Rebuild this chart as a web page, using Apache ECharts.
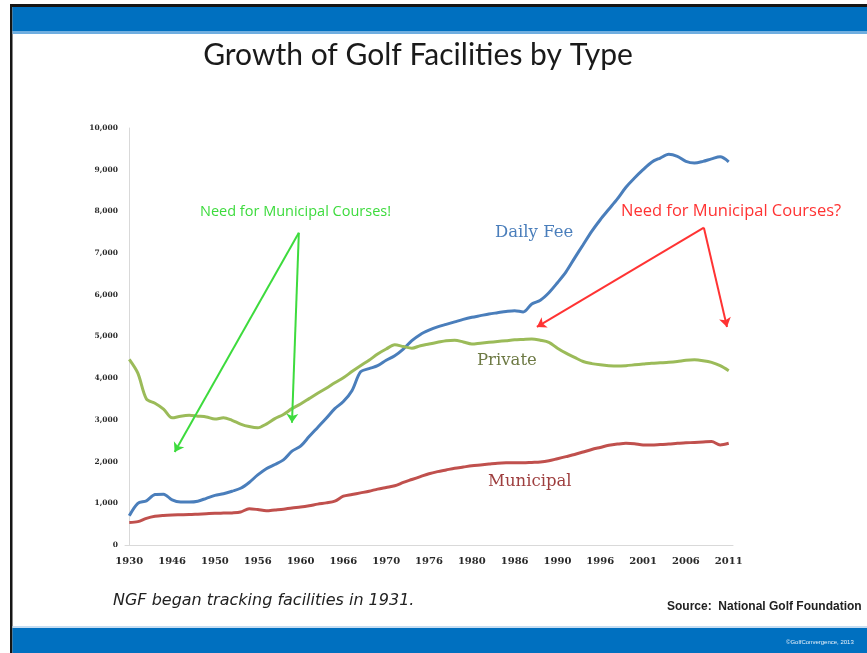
<!DOCTYPE html>
<html>
<head>
<meta charset="utf-8">
<script src="https://cdn.jsdelivr.net/npm/echarts@6/dist/echarts.min.js"></script>
<style>
  html, body { margin: 0; padding: 0; background: #fff; }
  #chart { width: 867px; height: 653px; }
</style>
</head>
<body>
<div id="chart"></div>
<script>
// Axis tick labels (years shown on the category axis)
const tickLabels = ['1930', '1946', '1950', '1956', '1960', '1966', '1970', '1976',
                    '1980', '1986', '1990', '1996', '2001', '2006', '2011'];
// Number of data points between two labelled years
const stepsPerLabel = 5;

// Number of golf facilities by type
const dailyFee = [700, 1000, 1060, 1210, 1220, 1080, 1030, 1030, 1050, 1120,
  1190, 1230, 1290, 1360, 1500, 1680, 1830, 1930, 2040, 2250,
  2370, 2600, 2820, 3040, 3270, 3440, 3700, 4150, 4230, 4300,
  4430, 4540, 4700, 4900, 5050, 5150, 5230, 5290, 5350, 5410,
  5460, 5500, 5540, 5570, 5600, 5620, 5590, 5780, 5870, 6050,
  6290, 6550, 6880, 7200, 7520, 7800, 8050, 8300, 8580, 8800,
  9000, 9180, 9280, 9370, 9320, 9200, 9160, 9200, 9260, 9310, 9190];

const privateCourses = [4450, 4120, 3500, 3400, 3260, 3050, 3090, 3110, 3090, 3070,
  3020, 3050, 2990, 2900, 2840, 2810, 2900, 3030, 3130, 3270,
  3380, 3510, 3640, 3760, 3890, 4010, 4160, 4300, 4430, 4580,
  4700, 4800, 4760, 4720, 4780, 4820, 4860, 4900, 4910, 4870,
  4820, 4840, 4860, 4880, 4900, 4920, 4930, 4940, 4910, 4860,
  4720, 4600, 4500, 4400, 4350, 4320, 4300, 4290, 4300, 4320,
  4340, 4360, 4370, 4380, 4400, 4430, 4440, 4420, 4380, 4300, 4180];

const municipal = [540, 560, 640, 690, 710, 720, 725, 730, 740, 750,
  760, 765, 770, 790, 870, 850, 820, 840, 860, 890,
  910, 940, 980, 1010, 1050, 1170, 1210, 1250, 1290, 1340,
  1380, 1420, 1500, 1570, 1640, 1710, 1760, 1800, 1840, 1870,
  1900, 1920, 1940, 1960, 1970, 1970, 1970, 1980, 1990, 2020,
  2070, 2120, 2170, 2230, 2290, 2340, 2390, 2420, 2440, 2430,
  2400, 2400, 2410, 2420, 2440, 2450, 2460, 2470, 2480, 2400, 2440];

// Callout arrows: [pointIndex, facilities] for the apex and the two tips
const greenApex = [19.8, 7490];
const greenTips = [[5.3, 2230], [19.0, 2930]];
const redApex = [67.1, 7610];
const redTips = [[47.6, 5230], [69.8, 5230]];

// Category list: each labelled year followed by unlabelled intermediate points
const categories = [];
tickLabels.forEach((t, i) => {
  categories.push(t);
  if (i < tickLabels.length - 1) {
    for (let k = 1; k < stepsPerLabel; k++) categories.push('');
  }
});
const lastIndex = categories.length - 1;

const COLORS = { daily: '#4A7EBB', priv: '#9BBB59', muni: '#C0504D',
                 green: '#3DDB3D', red: '#FF3333' };

function arrowLines(apex, tips) {
  return tips.map(t => [{ coord: apex }, { coord: t }]);
}

const chart = echarts.init(document.getElementById('chart'), null, { renderer: 'canvas' });

const option = {
  backgroundColor: '#ffffff',
  animation: false,
  title: {
    text: 'Growth of Golf Facilities by Type',
    left: 413, top: 35, textAlign: 'center',
    textStyle: { fontFamily: 'Lato', fontWeight: 'normal', fontSize: 30, color: '#1a1a1a' }
  },
  grid: { left: 125, right: 134, top: 128, bottom: 108 },
  xAxis: [{
    type: 'category',
    data: categories,
    boundaryGap: true,
    axisLine: { show: true, lineStyle: { color: '#d9d9d9', width: 1 } },
    axisTick: { show: false },
    axisLabel: {
      interval: 0, margin: 11,
      fontFamily: 'DejaVu Serif', fontWeight: 'bold', fontSize: 10, color: '#2a2a2a'
    },
    splitLine: { show: false }
  }, {
    // hidden numeric twin of the category axis, used to place the callout arrows
    type: 'value', show: false,
    min: -0.5, max: lastIndex + 0.5
  }],
  yAxis: {
    type: 'value', min: 0, max: 10000, interval: 1000,
    axisLine: { show: true, lineStyle: { color: '#d9d9d9', width: 1 } },
    axisTick: { show: false },
    splitLine: { show: false },
    axisLabel: {
      margin: 7,
      fontFamily: 'DejaVu Serif', fontWeight: 'bold', fontSize: 7.5, color: '#2a2a2a',
      formatter: v => v.toLocaleString('en-US')
    }
  },
  series: [
    { name: 'Daily Fee', type: 'line', data: dailyFee, smooth: 0.3, showSymbol: false,
      lineStyle: { color: COLORS.daily, width: 3 }, itemStyle: { color: COLORS.daily } },
    { name: 'Private', type: 'line', data: privateCourses, smooth: 0.3, showSymbol: false,
      lineStyle: { color: COLORS.priv, width: 3 }, itemStyle: { color: COLORS.priv } },
    { name: 'Municipal', type: 'line', data: municipal, smooth: 0.3, showSymbol: false,
      lineStyle: { color: COLORS.muni, width: 3 }, itemStyle: { color: COLORS.muni } },
    { name: 'callouts-green', type: 'scatter', xAxisIndex: 1, symbolSize: 0,
      data: [greenApex], silent: true,
      markLine: { silent: true, symbol: ['none', 'arrow'], symbolSize: 9, label: { show: false },
        lineStyle: { color: COLORS.green, width: 2, type: 'solid' },
        data: arrowLines(greenApex, greenTips) } },
    { name: 'callouts-red', type: 'scatter', xAxisIndex: 1, symbolSize: 0,
      data: [redApex], silent: true,
      markLine: { silent: true, symbol: ['none', 'arrow'], symbolSize: 9, label: { show: false },
        lineStyle: { color: COLORS.red, width: 2, type: 'solid' },
        data: arrowLines(redApex, redTips) } }
  ],
  graphic: [
    // slide frame and bands
    { type: 'rect', shape: { x: 10, y: 4, width: 857, height: 3 }, style: { fill: '#151515' } },
    { type: 'rect', shape: { x: 10, y: 4, width: 2.5, height: 649 }, style: { fill: '#151515' } },
    { type: 'rect', shape: { x: 12.5, y: 7, width: 855, height: 24 }, style: { fill: '#0070C0' } },
    { type: 'rect', shape: { x: 12.5, y: 31, width: 855, height: 3 }, style: { fill: '#6FAEE0' } },
    { type: 'rect', shape: { x: 12.5, y: 626, width: 855, height: 2 }, style: { fill: '#C6DDF2' } },
    { type: 'rect', shape: { x: 12.5, y: 628, width: 855, height: 25 }, style: { fill: '#0070C0' } },
    { type: 'text', left: 786, top: 639,
      style: { text: '\u00A9GolfConvergence, 2013', fill: '#e8f1fa', font: '6px "Liberation Sans"' } },
    // series names
    { type: 'text', left: 495, top: 224,
      style: { text: 'Daily Fee', fill: '#4A7EBB', font: '16.5px "DejaVu Serif"' } },
    { type: 'text', left: 477, top: 352,
      style: { text: 'Private', fill: '#6E7A45', font: '16.5px "DejaVu Serif"' } },
    { type: 'text', left: 488, top: 473,
      style: { text: 'Municipal', fill: '#9E3E3E', font: '16.5px "DejaVu Serif"' } },
    // callout captions
    { type: 'text', left: 200, top: 204,
      style: { text: 'Need for Municipal Courses!', fill: COLORS.green, font: '14.5px "Open Sans"' } },
    { type: 'text', left: 621, top: 203,
      style: { text: 'Need for Municipal Courses?', fill: COLORS.red, font: '16.5px "Open Sans"' } },
    // footnotes
    { type: 'text', left: 113, top: 593,
      style: { text: 'NGF began tracking facilities in 1931.', fill: '#222',
               font: 'italic 16px "DejaVu Sans"' } },
    { type: 'text', left: 667, top: 601,
      style: { text: 'Source:  National Golf Foundation', fill: '#222',
               font: 'bold 12px "Liberation Sans"' } }
  ]
};

chart.setOption(option);
</script>
</body>
</html>
